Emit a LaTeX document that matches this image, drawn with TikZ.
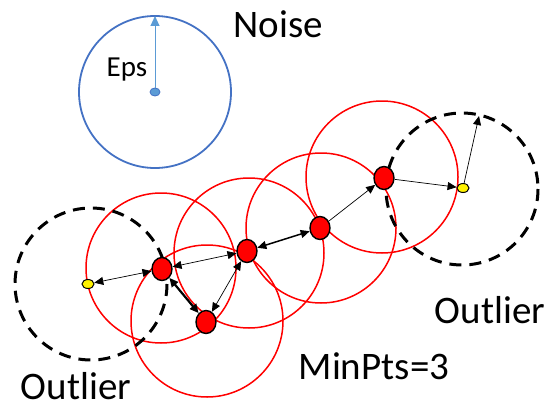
\documentclass[tikz,border=0pt]{standalone}
\usepackage{fontspec}
\setmainfont{Carlito}
\usetikzlibrary{arrows.meta,shapes.geometric}
\definecolor{offblue}{RGB}{68,114,196}
\definecolor{liteblue}{RGB}{91,155,213}
\tikzset{
  core/.style={ellipse,draw=black,line width=1.4pt,fill=red,minimum width=20pt,minimum height=23pt,inner sep=0pt},
  border/.style={ellipse,draw=black,line width=1pt,fill=yellow,minimum width=12pt,minimum height=9pt,inner sep=0pt},
  epsred/.style={draw=red,line width=1.5pt},
  outring/.style={draw=black,line width=3pt,dash pattern=on 12pt off 8pt},
  lbl/.style={font=\fontsize{39}{40}\selectfont,inner sep=0pt},
  link/.style={line width=0.7pt,{Triangle[length=9pt,width=8pt]}-{Triangle[length=9pt,width=8pt]}},
  onelink/.style={line width=0.7pt,-{Triangle[length=9pt,width=8pt]}},
}
\begin{document}
\begin{tikzpicture}[x=1pt,y=-1pt]
\useasboundingbox (0,0) rectangle (556,412);
% eps circles
\draw[epsred] (161,268) circle (75);
\draw[epsred] (207,321) circle (76);
\draw[epsred] (249,253) circle (75);
\draw[epsred] (321,228) circle (75);
\draw[epsred] (382,177) circle (76);
% outlier rings
\draw[outring] (91,284) circle (76);
\draw[outring] (462,189) circle (76);
% noise
\draw[offblue,line width=1.8pt] (155,92) circle (76);
\node[ellipse,fill=liteblue,draw=offblue,line width=0.8pt,minimum width=10pt,minimum height=8pt,inner sep=0pt] (c0) at (155,92) {};
\coordinate (e0) at (155,16);
\draw[liteblue,line width=1pt,-{Triangle[length=10pt,width=9pt]}] (c0) -- (e0);
\node[font=\fontsize{29}{30}\selectfont,inner sep=0pt,anchor=base] (eps) at (127,76) {Eps};
\node[lbl] (noise) at (278,24) {Noise};
% points
\node[core] (p1) at (162,269) {};
\node[core] (p2) at (206,322) {};
\node[core] (p3) at (247,251) {};
\node[core] (p4) at (320,228) {};
\node[core] (p5) at (384,178) {};
\node[border] (y1) at (88,284) {};
\node[border] (y2) at (463,188) {};
\coordinate (y2e) at (479,116);
% connectors
\draw[link] (p1) -- (y1);
\draw[link] (p1) -- (p3);
\draw[link,line width=2.2pt] (p1) -- (p2);
\draw[link] (p2) -- (p3);
\draw[link,line width=1.5pt] (p3) -- (p4);
\draw[onelink] (p4) -- (p5);
\draw[onelink] (p5) -- (y2);
\draw[onelink] (y2) -- (y2e);
% labels
\node[lbl] (out1) at (76,386) {Outlier};
\node[lbl] (out2) at (490,310) {Outlier};
\node[lbl] (minpts) at (374,366) {MinPts=3};
\end{tikzpicture}
\end{document}
